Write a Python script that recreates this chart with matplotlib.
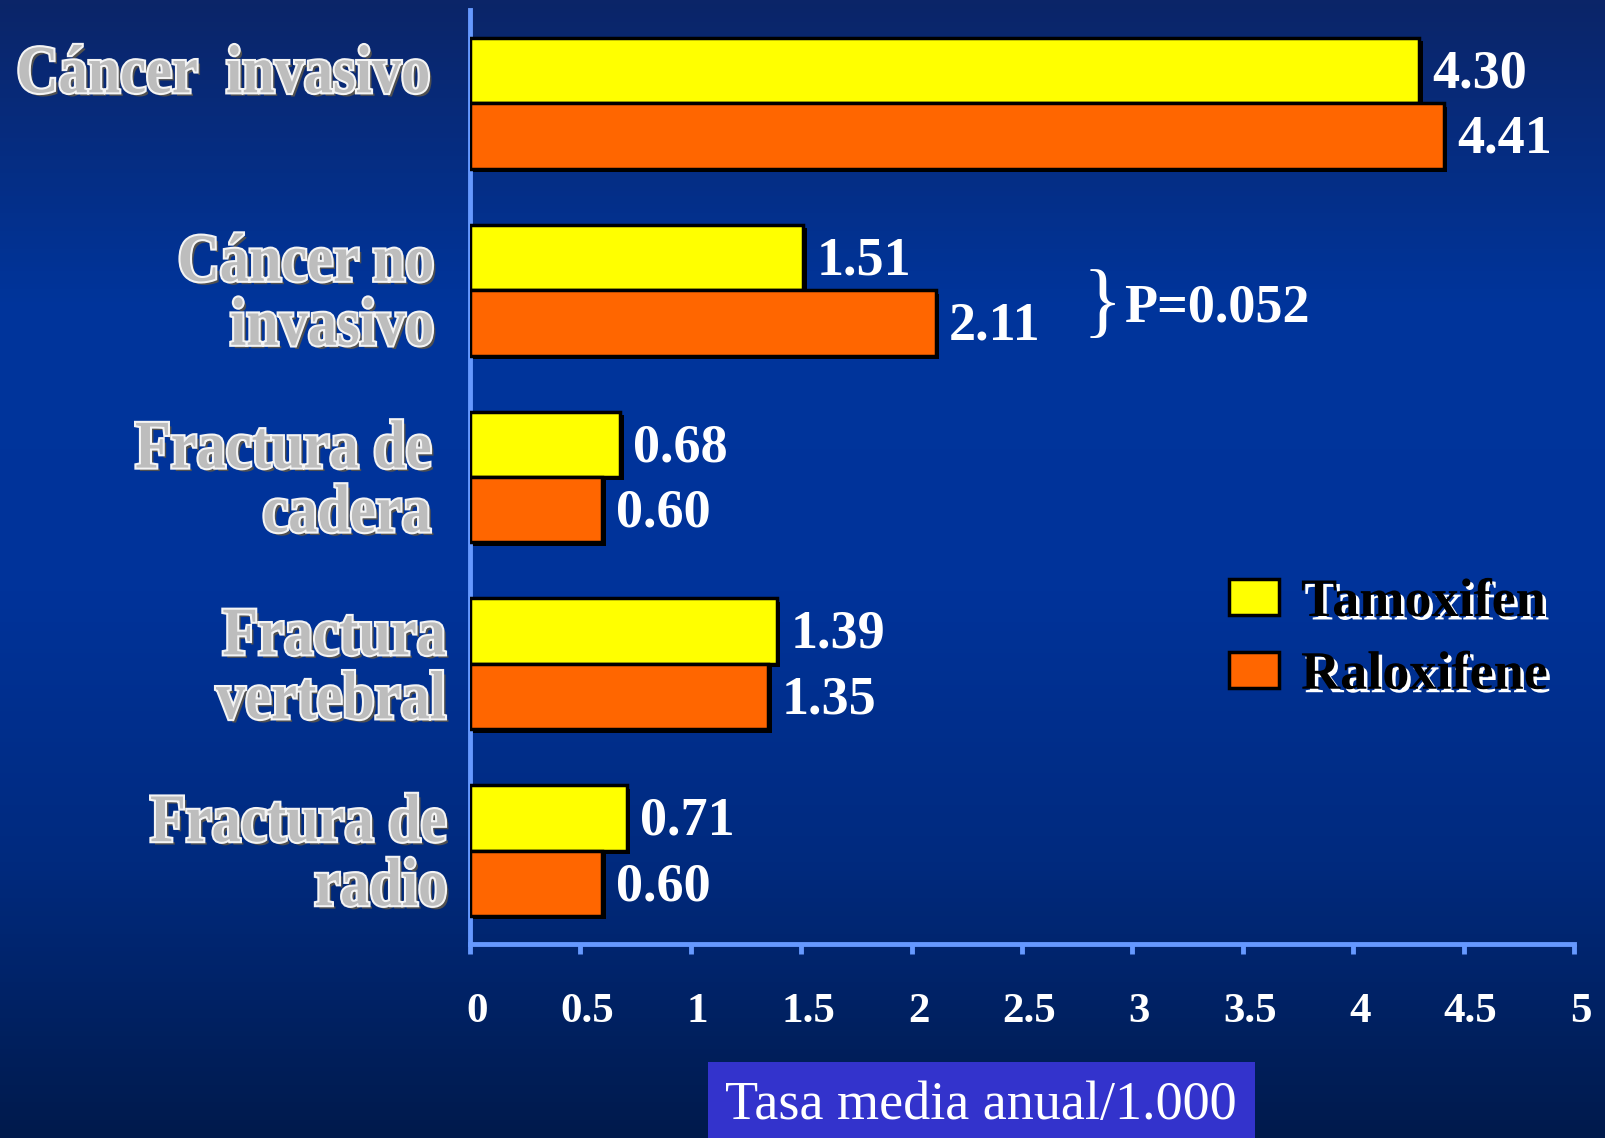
import numpy as np
import matplotlib
matplotlib.use("Agg")
import matplotlib.pyplot as plt
from matplotlib import patheffects as pe
from matplotlib.colors import LinearSegmentedColormap
from matplotlib.patches import Rectangle, PathPatch
from matplotlib.textpath import TextPath
from matplotlib.font_manager import FontProperties
from matplotlib.transforms import Affine2D, IdentityTransform, ScaledTranslation

categories = ["Cáncer  invasivo", "Cáncer no\ninvasivo", "Fractura de\ncadera",
              "Fractura\nvertebral", "Fractura de\nradio"]
tamoxifen = [4.30, 1.51, 0.68, 1.39, 0.71]
raloxifene = [4.41, 2.11, 0.60, 1.35, 0.60]
tamoxifen_labels = ["4.30", "1.51", "0.68", "1.39", "0.71"]
raloxifene_labels = ["4.41", "2.11", "0.60", "1.35", "0.60"]
x_ticks = [0, 0.5, 1, 1.5, 2, 2.5, 3, 3.5, 4, 4.5, 5]
x_tick_labels = ["0", "0.5", "1", "1.5", "2", "2.5", "3", "3.5", "4", "4.5", "5"]

SERIF = ["Liberation Serif", "DejaVu Serif"]
YELLOW = "#FFFF00"
ORANGE = "#FF6600"
AXIS_BLUE = "#6699FF"
DPI = 100

fig = plt.figure(figsize=(16.05, 11.38), dpi=DPI)

# background gradient
bg = fig.add_axes([0, 0, 1, 1], zorder=-10)
cmap = LinearSegmentedColormap.from_list(
    "slide", [(0.0, "#0b2568"), (0.27, "#00359c"), (0.52, "#00339a"),
              (0.76, "#012a7e"), (1.0, "#001a4c")])
bg.imshow(np.linspace(0, 1, 256)[:, None], cmap=cmap, aspect="auto",
          extent=[0, 1, 0, 1])
bg.axis("off")

ax = fig.add_axes([470 / 1605, 194 / 1138, 1104 / 1605, 934 / 1138])
ax.set_facecolor("none")

y = np.arange(len(categories))
h = 0.35
shadow = [pe.SimplePatchShadow(offset=(2.5, -2.5), shadow_rgbFace="black", alpha=1),
          pe.Normal()]
b1 = ax.barh(y - h / 2, tamoxifen, height=h, color=YELLOW, edgecolor="black",
             linewidth=2.5, label="Tamoxifen", zorder=3)
b2 = ax.barh(y + h / 2, raloxifene, height=h, color=ORANGE, edgecolor="black",
             linewidth=2.5, label="Raloxifene", zorder=3)
for bar in list(b1) + list(b2):
    bar.set_path_effects(shadow)

# value labels
for yi, v, s in zip(y - h / 2, tamoxifen, tamoxifen_labels):
    ax.text(v + 0.06, yi + 0.02, s, color="white", fontsize=39, fontweight="bold",
            family=SERIF, va="center", ha="left")
for yi, v, s in zip(y + h / 2, raloxifene, raloxifene_labels):
    ax.text(v + 0.06, yi + 0.02, s, color="white", fontsize=39, fontweight="bold",
            family=SERIF, va="center", ha="left")

ax.set_xlim(0, 5)
ax.set_ylim(4.5, -0.5)

# embossed category labels, drawn as glyph outlines stretched upward
emboss = [pe.SimplePatchShadow(offset=(2.5, -2.5), shadow_rgbFace="#505050", alpha=1),
          pe.Stroke(linewidth=3, foreground="#f4f4f4"), pe.Normal()]
label_font = FontProperties(family="Liberation Serif", weight="bold", size=42)
sx = DPI / 72
sy = sx * 1.17
line_gap = 64
label_y = [0 - 0.18, 1, 2, 3, 4]
label_right = [428, 432, 430, 445, 445]
for cat, ly, xr in zip(categories, label_y, label_right):
    lines = cat.split("\n")
    _, yc = ax.transData.transform((0, ly))
    cap = 0.662 * 42 * sy
    top_base = yc - cap / 2 + (len(lines) - 1) * line_gap / 2
    for k, line in enumerate(lines):
        tp = TextPath((0, 0), line, prop=label_font)
        width = tp.get_extents().x1
        tr = Affine2D().translate(-width, 0).scale(sx, sy).translate(
            xr, top_base - k * line_gap)
        patch = PathPatch(tr.transform_path(tp), transform=IdentityTransform(),
                          facecolor="#bdbdbd", edgecolor="none",
                          path_effects=emboss)
        fig.add_artist(patch)

# significance bracket
ax.text(2.864, 1.09, "}", fontsize=59, family=SERIF, color="white",
        ha="center", va="center")
ax.text(2.96, 1.10, "P=0.052", fontsize=39, fontweight="bold", family=SERIF,
        color="white", ha="left", va="center")

# axes styling
for side in ("top", "right"):
    ax.spines[side].set_visible(False)
ax.spines["left"].set_color(AXIS_BLUE)
ax.spines["left"].set_linewidth(3.5)
ax.spines["bottom"].set_color(AXIS_BLUE)
ax.spines["bottom"].set_linewidth(3.5)
ax.set_yticks([])
ax.set_xticks(x_ticks)
ax.set_xticklabels(x_tick_labels, family=SERIF, fontweight="bold",
                   fontsize=31, color="white")
ax.tick_params(axis="x", direction="out", length=7, width=3.5,
               color=AXIS_BLUE, pad=28)
nudge = ScaledTranslation(0.07, 0, fig.dpi_scale_trans)
for lbl in ax.get_xticklabels():
    lbl.set_transform(lbl.get_transform() + nudge)

# legend
leg = ax.legend(handles=[b1, b2], loc="upper left",
                bbox_to_anchor=(1229 / 1605, 1 - 578 / 1138),
                bbox_transform=fig.transFigure, frameon=False,
                prop={"family": SERIF, "weight": "bold", "size": 39},
                handlelength=0.93, handleheight=0.64, handletextpad=0.4,
                labelspacing=0.42, borderpad=0, borderaxespad=0)
for t in leg.get_texts():
    t.set_color("black")
    t.set_path_effects([pe.SimplePatchShadow(offset=(2.5, -2.5),
                                             shadow_rgbFace="white", alpha=1),
                        pe.Normal()])
for p in leg.legend_handles:
    p.set_path_effects([])

# axis title box
fig.patches.append(Rectangle((708 / 1605, 0), 547 / 1605, 76 / 1138,
                             transform=fig.transFigure, facecolor="#3333CC",
                             edgecolor="none", zorder=1))
fig.text(981 / 1605, 32 / 1138, "Tasa media anual/1.000", family=SERIF,
         fontsize=39, color="white", ha="center", va="center", zorder=2)

fig.savefig("out.png", dpi=DPI, facecolor=fig.get_facecolor())
plt.close(fig)
